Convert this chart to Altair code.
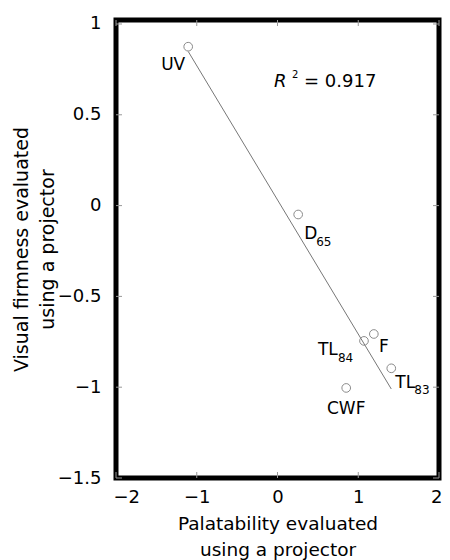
import altair as alt
import pandas as pd

# ---- data ----
names = ["UV", "D65", "F", "TL84", "TL83", "CWF"]
palatability = [-1.106, 0.256, 1.193, 1.071, 1.409, 0.851]
firmness = [0.875, -0.049, -0.707, -0.745, -0.896, -1.004]
label_main = ["UV", "D", "F", "TL", "TL", "CWF"]
label_sub = ["", "65", "", "84", "83", ""]
r2_value = 0.917

x_ticks = [-2, -1, 0, 1, 2]
y_ticks = [-1.5, -1, -0.5, 0, 0.5, 1]
x_title = ["Palatability evaluated", "\u2003\u2003using a projector"]
y_title = ["Visual firmness evaluated", "using a projector"]

df = pd.DataFrame({"name": names, "x": palatability, "y": firmness,
                   "main": label_main, "sub": label_sub})
xt = pd.DataFrame({"v": x_ticks})
yt = pd.DataFrame({"v": y_ticks})

W, H = 323, 458
FONT = "DejaVu Sans"
GRAY = "#8a8a8a"

xscale = alt.Scale(domain=[-2, 2], nice=False, zero=False)
yscale = alt.Scale(domain=[-1.5, 1.022], nice=False, zero=False)

xenc = alt.X("x:Q", scale=xscale, axis=alt.Axis(
    values=x_ticks, format="~g", title=x_title, grid=False, ticks=False, tickSize=0,
    domain=False, labelFontSize=18, labelFont=FONT, labelColor="black", labelPadding=10,
    labelFlush=True, labelFlushOffset=3, labelOverlap=False,
    titleFontSize=18.5, titleFont=FONT, titleFontWeight="normal", titleColor="black",
    titleLineHeight=26, titlePadding=8))
yenc = alt.Y("y:Q", scale=yscale, axis=alt.Axis(
    values=y_ticks, format="~g", title=y_title, grid=False, ticks=False, tickSize=0,
    domain=False, labelFontSize=18, labelFont=FONT, labelColor="black", labelPadding=15,
    labelOverlap=False,
    titleFontSize=19, titleFont=FONT, titleFontWeight="normal", titleColor="black",
    titleLineHeight=26, titlePadding=0))

base = alt.Chart(df)

reg = base.transform_regression("x", "y").mark_line(
    color="#777777", strokeWidth=1).encode(x=xenc, y=yenc)

pts = base.mark_point(shape="circle", filled=False, color=GRAY, size=75,
                      strokeWidth=1, opacity=1).encode(
    x=alt.X("x:Q", scale=xscale), y=alt.Y("y:Q", scale=yscale))

# label placement (style only): name -> (align, dx, dy, sub_dx, sub_dy)
place = {
    "UV": ("center", -15, 18, 0, 0),
    "D65": ("left", 6, 20, 18, 28),
    "F": ("center", 10, 13, 0, 0),
    "TL84": ("left", -46, 9, -26, 17),
    "TL83": ("left", 4, 15, 23, 22),
    "CWF": ("center", 0, 21, 0, 0),
}
label_layers = []
for n, (al, dx, dy, sdx, sdy) in place.items():
    sel = base.transform_filter(alt.datum.name == n)
    label_layers.append(sel.mark_text(
        align=al, baseline="middle", dx=dx, dy=dy, fontSize=17, font=FONT,
        color="black").encode(
        x=alt.X("x:Q", scale=xscale), y=alt.Y("y:Q", scale=yscale), text="main:N"))
    if df.loc[df.name == n, "sub"].iloc[0]:
        label_layers.append(sel.mark_text(
            align="left", baseline="middle", dx=sdx, dy=sdy, fontSize=12, font=FONT,
            color="black").encode(
            x=alt.X("x:Q", scale=xscale), y=alt.Y("y:Q", scale=yscale), text="sub:N"))

# inward ticks on all four sides
tick_style = dict(color="#999999", strokeWidth=1)
xb = alt.Chart(xt).mark_rule(**tick_style).encode(
    x=alt.X("v:Q", scale=xscale), y=alt.value(H), y2=alt.value(H - 6))
xtp = alt.Chart(xt).mark_rule(**tick_style).encode(
    x=alt.X("v:Q", scale=xscale), y=alt.value(0), y2=alt.value(6))
yl = alt.Chart(yt).mark_rule(**tick_style).encode(
    y=alt.Y("v:Q", scale=yscale), x=alt.value(0), x2=alt.value(6))
yr = alt.Chart(yt).mark_rule(**tick_style).encode(
    y=alt.Y("v:Q", scale=yscale), x=alt.value(W), x2=alt.value(W - 6))

# R^2 annotation
ann = pd.DataFrame({"r": ["R"], "two": ["2"], "val": [f"= {r2_value:.3f}"]})
a1 = alt.Chart(ann).mark_text(align="left", baseline="middle", fontSize=18, font=FONT,
                              fontStyle="italic", color="black").encode(
    x=alt.value(158), y=alt.value(62), text="r:N")
a2 = alt.Chart(ann).mark_text(align="left", baseline="middle", fontSize=10, font=FONT,
                              color="black").encode(
    x=alt.value(176), y=alt.value(55), text="two:N")
a3 = alt.Chart(ann).mark_text(align="left", baseline="middle", fontSize=18, font=FONT,
                              color="black").encode(
    x=alt.value(188), y=alt.value(62), text="val:N")

chart = alt.layer(reg, xb, xtp, yl, yr, pts, *label_layers, a1, a2, a3).properties(
    width=W, height=H,
    autosize=alt.AutoSizeParams(type="none"),
    padding={"left": 108, "top": 12, "right": 3, "bottom": 82},
).configure(
    background="white",
    view=alt.ViewConfig(stroke="black", strokeWidth=5),
)

chart.save("out.html", embed_options={"renderer": "svg", "actions": False})
